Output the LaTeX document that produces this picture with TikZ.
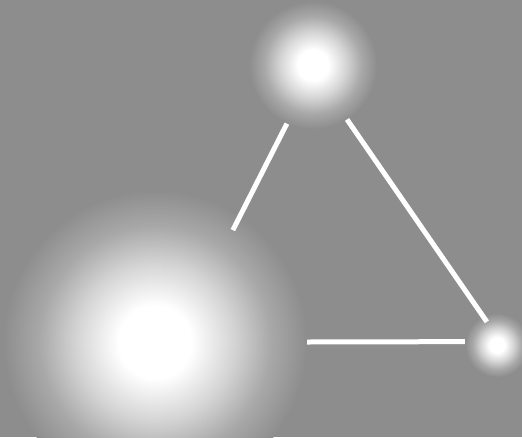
\documentclass[tikz,border=0pt]{standalone}
\definecolor{bggray}{RGB}{141,141,141}
\colorlet{glowmid}{white!62!bggray}
\colorlet{glowlow}{white!24!bggray}
\pgfdeclareradialshading{glow}{\pgfpoint{0bp}{0bp}}{color(0bp)=(white); color(6bp)=(white); color(13bp)=(glowmid); color(19bp)=(glowlow); color(25bp)=(bggray); color(50bp)=(bggray)}
\tikzset{blob/.style={circle, shading=glow, inner sep=0pt}}
\begin{document}
\begin{tikzpicture}[x=1pt,y=-1pt]
\useasboundingbox (0,0) rectangle (522,437);
\clip (0,0) rectangle (522,437);
\fill[bggray] (0,0) rectangle (522,437);
\node[blob, minimum size=128pt] (top) at (313,65) {};
\node[blob, minimum size=304pt] (big) at (155,342) {};
\node[blob, minimum size=64pt] (small) at (497,345) {};
\draw[white, line width=5pt, shorten >=-16pt] (top.246) -- (big.56);
\draw[white, line width=5pt, shorten >=-7pt] (top.302) -- (small.116);
\draw[white, line width=5pt] (big.east) -- (small.174);
\end{tikzpicture}
\end{document}
